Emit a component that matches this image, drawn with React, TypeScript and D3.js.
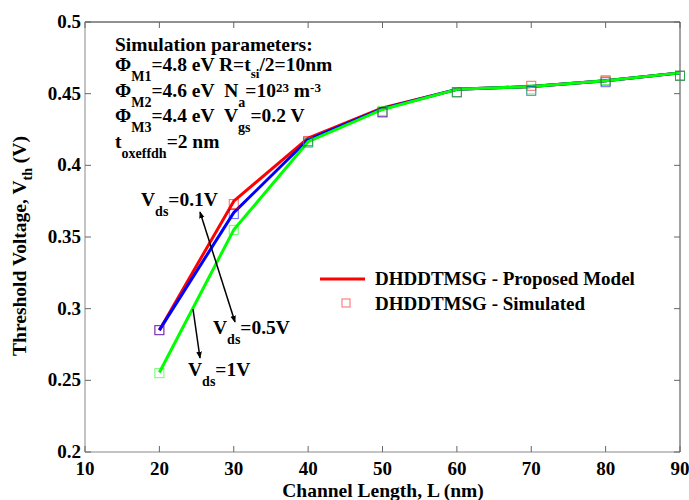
import React from "react";
import * as d3 from "d3";

const lengths = [20, 30, 40, 50, 60, 70, 80, 90];
const modelVds01 = [0.285, 0.375, 0.419, 0.44, 0.453, 0.455, 0.459, 0.4645];
const modelVds05 = [0.285, 0.367, 0.418, 0.4395, 0.453, 0.455, 0.459, 0.4645];
const modelVds1 = [0.2555, 0.355, 0.4165, 0.439, 0.453, 0.455, 0.459, 0.4645];
const simVds01 = [0.285, 0.373, 0.417, 0.437, 0.451, 0.4555, 0.459, 0.4625];
const simVds05 = [0.285, 0.366, 0.416, 0.437, 0.451, 0.452, 0.458, 0.4625];
const simVds1 = [0.255, 0.355, 0.416, 0.438, 0.451, 0.453, 0.4595, 0.4625];
const xTicks = [10, 20, 30, 40, 50, 60, 70, 80, 90];
const yTicks = [0.2, 0.25, 0.3, 0.35, 0.4, 0.45, 0.5];
const seriesColors = ["#ff0000", "#0000ff", "#00ff00"];

const W = 689;
const H = 500;
const L = 85, R = 680, T = 22, B = 452;

export default function App() {
  const x = d3.scaleLinear().domain([10, 90]).range([L, R]);
  const y = d3.scaleLinear().domain([0.2, 0.5]).range([B, T]);
  const line = d3
    .line<number>()
    .x((_, i) => x(lengths[i]))
    .y((v) => y(v));
  const models = [modelVds01, modelVds05, modelVds1];
  const sims = [simVds01, simVds05, simVds1];
  const font = "Liberation Serif, DejaVu Serif, Noto Serif, Times New Roman, serif";
  const ms = 9;
  const tl = 6;
  const sub = 14;

  return (
    <svg width={W} height={H} style={{ position: "absolute", left: 0, top: 0, background: "#fff", fontFamily: font, fontWeight: 700 }}>
      <rect x={0} y={0} width={W} height={H} fill="#fff" />
      {/* frame */}
      <line x1={L} x2={R} y1={T} y2={T} stroke="#222" strokeWidth={1} />
      <line x1={R} x2={R} y1={T} y2={B} stroke="#444" strokeWidth={1} />
      <line x1={L} x2={L} y1={T} y2={B} stroke="#888" strokeWidth={1} />
      <line x1={L} x2={R} y1={B} y2={B} stroke="#888" strokeWidth={1} />
      {xTicks.map((t) => (
        <g key={"xt" + t}>
          <line x1={x(t)} x2={x(t)} y1={B} y2={B - tl} stroke="#666" />
          <line x1={x(t)} x2={x(t)} y1={T} y2={T + tl} stroke="#666" />
          <text x={x(t)} y={B + 23} textAnchor="middle" fontSize={19}>{t}</text>
        </g>
      ))}
      {yTicks.map((t) => (
        <g key={"yt" + t}>
          <line x1={L} x2={L + tl} y1={y(t)} y2={y(t)} stroke="#666" />
          <line x1={R} x2={R - tl} y1={y(t)} y2={y(t)} stroke="#666" />
          <text x={L - 4} y={y(t) + 6} textAnchor="end" fontSize={19}>{String(t)}</text>
        </g>
      ))}
      {/* axis labels */}
      <text x={383} y={497} textAnchor="middle" fontSize={19.5}>Channel Length, L (nm)</text>
      <text transform="translate(26,246) rotate(-90)" textAnchor="middle" fontSize={19.5}>
        Threshold Voltage, V<tspan fontSize={sub} dy={6}>th</tspan><tspan dy={-6}> (V)</tspan>
      </text>
      {/* model lines */}
      {models.map((m, k) => (
        <path key={"m" + k} d={line(m) || ""} fill="none" stroke={seriesColors[k]} strokeWidth={3} strokeLinejoin="round" />
      ))}
      {/* simulated markers */}
      {sims.map((s, k) =>
        s.map((v, i) => (
          <rect key={"s" + k + "-" + i} x={x(lengths[i]) - ms / 2} y={y(v) - ms / 2} width={ms} height={ms}
            fill="none" stroke={seriesColors[k]} strokeOpacity={0.6} strokeWidth={1} />
        ))
      )}
      {/* parameters text */}
      <g fontSize={19.5}>
        <text x={115} y={51}>Simulation parameters:</text>
        <text x={115} y={71}>
          Φ<tspan fontSize={sub} dy={10}>M1</tspan><tspan dy={-10}>=4.8 eV R=t</tspan>
          <tspan fontSize={13} dy={7}>si</tspan><tspan dy={-7}>/2=10nm</tspan>
        </text>
        <text x={115} y={97}>
          Φ<tspan fontSize={sub} dy={10}>M2</tspan><tspan dy={-10}>{"=4.6 eV\u00a0 N"}</tspan>
          <tspan fontSize={sub} dy={10}>a</tspan><tspan dy={-10}>=10</tspan>
          <tspan fontSize={13} dy={-5}>23</tspan><tspan dy={5}> m</tspan>
          <tspan fontSize={13} dy={-5}>-3</tspan>
        </text>
        <text x={115} y={122}>
          Φ<tspan fontSize={sub} dy={10}>M3</tspan><tspan dy={-10}>{"=4.4 eV\u00a0 V"}</tspan>
          <tspan fontSize={sub} dy={10}>gs</tspan><tspan dy={-10}>=0.2 V</tspan>
        </text>
        <text x={115} y={148}>
          t<tspan fontSize={sub} dy={10}>oxeffdh</tspan><tspan dy={-10}>=2 nm</tspan>
        </text>
      </g>
      {/* Vds annotations */}
      <defs>
        <marker id="ah" viewBox="0 0 10 10" refX={9} refY={5} markerWidth={7} markerHeight={9} orient="auto-start-reverse" markerUnits="userSpaceOnUse">
          <path d="M0,1 L10,5 L0,9 Z" fill="#000" />
        </marker>
      </defs>
      <line x1={200} y1={212} x2={235} y2={322} stroke="#000" strokeWidth={1.5} markerStart="url(#ah)" markerEnd="url(#ah)" />
      <line x1={193} y1={309} x2={200} y2={358} stroke="#000" strokeWidth={1.5} markerEnd="url(#ah)" />
      <g fontSize={19.5}>
        <text x={141} y={206}>V<tspan fontSize={sub} dy={10}>ds</tspan><tspan dy={-10}>=0.1V</tspan></text>
        <text x={213} y={334}>V<tspan fontSize={sub} dy={10}>ds</tspan><tspan dy={-10}>=0.5V</tspan></text>
        <text x={188} y={376}>V<tspan fontSize={sub} dy={10}>ds</tspan><tspan dy={-10}>=1V</tspan></text>
      </g>
      {/* legend */}
      <line x1={320} x2={365} y1={279} y2={279} stroke="#ff0000" strokeWidth={3} />
      <text x={375} y={285} fontSize={19}>DHDDTMSG - Proposed Model</text>
      <rect x={342} y={299} width={8} height={8} fill="none" stroke="#ff0000" strokeOpacity={0.6} />
      <text x={375} y={310} fontSize={19}>DHDDTMSG - Simulated</text>
    </svg>
  );
}
